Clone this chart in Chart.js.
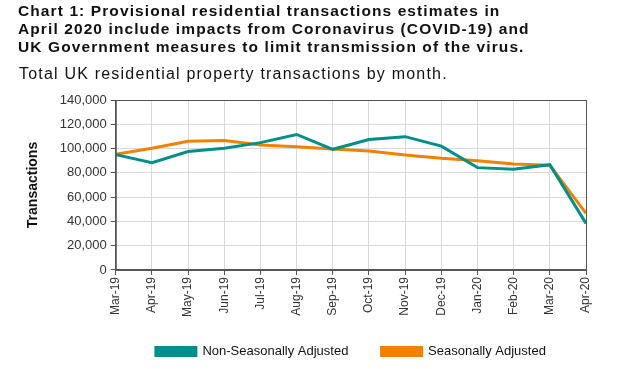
<!DOCTYPE html>
<html>
<head>
<meta charset="utf-8">
<script src="https://cdn.jsdelivr.net/npm/chart.js@4"></script>
<style>
  body { margin: 0; background: #fff; }
  #wrap { position: relative; width: 626px; height: 369px; overflow: hidden; }
  #title { position: absolute; left: 18px; top: 2px; font: bold 15.5px "Liberation Sans", Arial, sans-serif;
           letter-spacing: 1.1px; line-height: 18px; color: #111; }
  #sub { position: absolute; left: 19px; top: 65px; font: 16px "Liberation Sans", Arial, sans-serif;
         letter-spacing: 1.2px; color: #111; }
  canvas { position: absolute; left: 0; top: 0; }
</style>
</head>
<body>
<div id="wrap">
  <canvas id="c" width="626" height="369"></canvas>
  <div id="title">Chart 1: Provisional residential transactions estimates in<br>April 2020 include impacts from Coronavirus (COVID-19) and<br>UK Government measures to limit transmission of the virus.</div>
  <div id="sub">Total UK residential property transactions by month.</div>
</div>
<script>
/* ========= DATA ========= */
const months = ["Mar-19","Apr-19","May-19","Jun-19","Jul-19","Aug-19","Sep-19",
                "Oct-19","Nov-19","Dec-19","Jan-20","Feb-20","Mar-20","Apr-20"];
const nonSeasonal = [95000, 88400, 97500, 100200, 104900, 111600, 99400,
                     107500, 109800, 102000, 84300, 83000, 86700, 38400];
const seasonal    = [95300, 100200, 106000, 106700, 103000, 101400, 99700,
                     98000, 94700, 92000, 90000, 87300, 86200, 46700];

const font = "'Liberation Sans', Arial, sans-serif";

// dark frame round the plot area
const frame = {
  id: "frame",
  afterDraw(chart){
    const a = chart.chartArea, g = chart.ctx;
    g.save();
    g.strokeStyle = "#555";
    g.lineWidth = 1;
    g.strokeRect(a.left + .5, a.top + .5, a.right - a.left, a.bottom - a.top);
    g.restore();
  }
};

new Chart(document.getElementById("c"), {
  type: "line",
  data: {
    labels: months,
    datasets: [
      { label: "Non-Seasonally Adjusted", data: nonSeasonal, borderColor: "#008F8A",
        backgroundColor: "#008F8A", borderWidth: 3, pointRadius: 0, tension: 0 },
      { label: "Seasonally Adjusted", data: seasonal, borderColor: "#F28100",
        backgroundColor: "#F28100", borderWidth: 3, pointRadius: 0, tension: 0 }
    ]
  },
  options: {
    responsive: false,
    animation: false,
    layout: { padding: { left: 21, right: 40, top: 100, bottom: 1 } },
    plugins: {
      legend: {
        position: "bottom",
        fullSize: false,
        labels: {
          boxWidth: 40, boxHeight: 8, padding: 26, color: "#111",
          font: { family: font, size: 13 },
          // a little extra room after the first entry
          generateLabels: chart => Chart.defaults.plugins.legend.labels.generateLabels(chart)
            .map((l, i) => i === 0 ? { ...l, text: l.text + "  " } : l)
        }
      },
      tooltip: { enabled: false }
    },
    scales: {
      x: {
        grid: { color: "#d9d9d9", tickLength: 5, tickColor: "#555" },
        border: { color: "#555" },
        ticks: { minRotation: 90, maxRotation: 90, color: "#333", padding: 2,
                 font: { family: font, size: 12 } }
      },
      y: {
        min: 0, max: 140000,
        grid: { color: "#d9d9d9", tickLength: 5, tickColor: "#555" },
        border: { color: "#555" },
        ticks: { stepSize: 20000, color: "#333", padding: 4,
                 font: { family: font, size: 13 },
                 callback: v => v.toLocaleString("en-GB") },
        title: { display: true, text: "Transactions", color: "#111",
                 font: { family: font, size: 14, weight: "bold" }, padding: { bottom: 14 } }
      }
    }
  },
  plugins: [frame]
});
</script>
</body>
</html>
